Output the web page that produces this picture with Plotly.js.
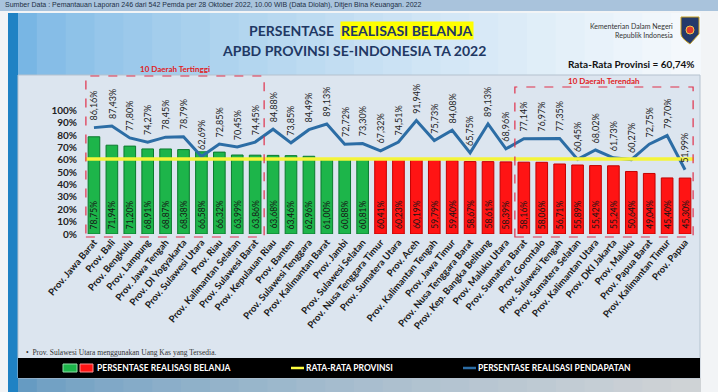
<!DOCTYPE html>
<html>
<head>
<meta charset="utf-8">
<script src="https://cdn.plot.ly/plotly-3.0.1.min.js"></script>
<style>html,body{margin:0;padding:0;background:#ffffff;}#chart{width:718px;height:392px;}</style>
</head>
<body>
<div id="chart"></div>
<script>
const provinces = [
  "Prov. Jawa Barat","Prov. Bali","Prov. Bengkulu","Prov. Lampung","Prov. Jawa Tengah",
  "Prov. DI Yogyakarta","Prov. Sulawesi Utara","Prov. Riau","Prov. Kalimantan Selatan","Prov. Sulawesi Barat",
  "Prov. Kepulauan Riau","Prov. Banten","Prov. Sulawesi Tenggara","Prov. Kalimantan Barat","Prov. Jambi",
  "Prov. Sulawesi Selatan","Prov. Nusa Tenggara Timur","Prov. Sumatera Utara","Prov. Aceh","Prov. Kalimantan Tengah",
  "Prov. Jawa Timur","Prov. Nusa Tenggara Barat","Prov. Kep. Bangka Belitung","Prov. Maluku Utara","Prov. Sumatera Barat",
  "Prov. Gorontalo","Prov. Sulawesi Tengah","Prov. Sumatera Selatan","Prov. Kalimantan Utara","Prov. DKI Jakarta",
  "Prov. Maluku","Prov. Papua Barat","Prov. Kalimantan Timur","Prov. Papua"
];
const belanja = [
  78.75,71.94,71.20,68.91,68.87,68.38,66.58,66.32,63.99,63.86,
  63.68,63.46,62.96,61.00,60.88,60.81,60.41,60.23,60.19,59.79,
  59.40,58.67,58.61,58.39,58.16,58.06,56.71,55.89,55.42,55.24,
  50.64,49.04,45.40,45.30
];
const pendapatan = [
  86.16,87.43,77.80,74.27,78.45,78.79,62.69,72.85,70.45,74.45,
  84.88,73.85,84.49,89.13,72.72,73.30,67.32,74.51,91.94,75.73,
  84.08,65.75,89.13,68.96,77.14,76.97,77.35,60.45,68.02,61.73,
  60.27,72.75,79.70,51.99
];
const rataRata = 60.74;
const yTickVals = [0,10,20,30,40,50,60,70,80,90,100];
const yTickText = ["0%","10%","20%","30%","40%","50%","60%","70%","80%","90%","100%"];

const fmt = v => v.toFixed(2).replace('.', ',') + '%';
const FONT = "Lato, 'Open Sans', sans-serif";
const idx = provinces.map((p,i)=>i);

const barTrace = {
  type: 'bar', x: idx, y: belanja,
  marker: {
    color: belanja.map(v => v >= rataRata ? '#1db54a' : '#ff1414'),
    line: {color: belanja.map(v => v >= rataRata ? '#0b7a2e' : '#c40000'), width: 1}
  },
  hoverinfo: 'skip', showlegend: false
};
const lineTrace = {
  type: 'scatter', mode: 'lines', x: idx, y: pendapatan,
  line: {color: '#2c6da5', width: 3}, hoverinfo: 'skip', showlegend: false
};

const annotations = pendapatan.map((v,i) => ({
  x: i, y: v, xref: 'x', yref: 'y', text: fmt(v), textangle: -90,
  showarrow: false, yanchor: 'bottom', xanchor: 'center', yshift: 5,
  font: {family: FONT, size: 9, color: '#222'}
}));
belanja.forEach((v,i) => annotations.push({
  x: i, y: 0, xref: 'x', yref: 'y', text: fmt(v), textangle: -90,
  showarrow: false, yanchor: 'bottom', xanchor: 'center', yshift: 3,
  font: {family: FONT, size: 8.5, color: '#151515'}
}));

const pa = (x,y,text,opt) => Object.assign({xref:'paper',yref:'paper',x:x,y:y,text:text,showarrow:false}, opt||{});
const L=85, R=24, T=74, B=158, W=718, H=392;
const px = x => (x - L)/(W - L - R);
const py = y => (H - B - y)/(H - T - B);

annotations.push(
  pa(px(3), py(5), "Sumber Data : Pemantauan Laporan 246 dari 542 Pemda per 28 Oktober 2022, 10.00 WIB (Data Diolah), Ditjen Bina Keuangan. 2022",
     {xanchor:'left', yanchor:'middle', font:{family:"'Liberation Sans', Arial", size:7, color:'#1c2f45'}}),
  pa(px(340), py(31), "<b>PERSENTASE </b>", {xanchor:'right', yanchor:'middle', font:{family:FONT, size:14, color:'#1f3864'}}),
  pa(px(340), py(31), "<b>REALISASI BELANJA</b>", {xanchor:'left', yanchor:'middle', bgcolor:'#ffff00', borderpad:0, font:{family:FONT, size:14, color:'#1f3864'}}),
  pa(px(354), py(51), "<b>APBD PROVINSI SE-INDONESIA TA 2022</b>", {xanchor:'center', yanchor:'middle', font:{family:FONT, size:14, color:'#1f3864'}}),
  pa(px(675), py(31), "Kementerian Dalam Negeri<br>Republik Indonesia", {xanchor:'right', yanchor:'middle', align:'right', font:{family:FONT, size:7, color:'#333'}}),
  pa(px(697), py(64), "<b>Rata-Rata Provinsi = 60,74%</b>", {xanchor:'right', yanchor:'middle', font:{family:FONT, size:10, color:'#111'}}),
  pa(px(175), py(69), "<b>10 Daerah Tertinggi</b>", {xanchor:'center', yanchor:'middle', font:{family:FONT, size:8, color:'#e0201c'}}),
  pa(px(604), py(81), "<b>10 Daerah Terendah</b>", {xanchor:'center', yanchor:'middle', font:{family:FONT, size:8, color:'#e0201c'}}),
  pa(px(24), py(352), "•  Prov. Sulawesi Utara menggunakan Uang Kas yang Tersedia.", {xanchor:'left', yanchor:'middle', font:{family:"'Liberation Serif', serif", size:7.5, color:'#333'}}),
  pa(px(95), py(368), "<b>PERSENTASE REALISASI BELANJA</b>", {xanchor:'left', yanchor:'middle', font:{family:FONT, size:8.5, color:'#fff'}}),
  pa(px(304), py(368), "<b>RATA-RATA PROVINSI</b>", {xanchor:'left', yanchor:'middle', font:{family:FONT, size:8.5, color:'#fff'}}),
  pa(px(476), py(368), "<b>PERSENTASE REALISASI PENDAPATAN</b>", {xanchor:'left', yanchor:'middle', font:{family:FONT, size:8.5, color:'#fff'}})
);

const rect = (x0,y0,x1,y1,fill,opt) => Object.assign({type:'rect', xref:'paper', yref:'paper', x0:px(x0), x1:px(x1), y0:py(y0), y1:py(y1), fillcolor:fill, line:{width:0}, layer:'below'}, opt||{});
const shapes = [];
shapes.push(rect(0,0,718,392,'#f2f4f6'));
shapes.push(rect(0,0,718,11,'#a9c3dc'));
const n = 24;
for (let k=0;k<n;k++){
  const t = k/(n-1);
  const c1=[120,182,228], c2=[244,248,252];
  const c = c1.map((a,j)=>Math.round(a+(c2[j]-a)*Math.pow(t,0.7)));
  shapes.push(rect(8+k*(700-8)/n, 13, 8+(k+1)*(700-8)/n+1, 76, 'rgb('+c.join(',')+')'));
  shapes.push(rect(8+k*(700-8)/n, 378, 8+(k+1)*(700-8)/n+1, 392, 'rgb('+c.map((a,j)=>Math.round(a*0.85)).join(',')+')'));
}
shapes.push(rect(8,13,18,392,'#1f82c4'));
shapes.push(rect(18,75,700,378,'#dce5ef',{line:{color:'#b5c2cf',width:1}}));
shapes.push(rect(18,358,700,378,'#000000'));
shapes.push(rect(63,364,77,372,'#1db54a',{layer:'above', line:{color:'#8fe0a8',width:1}}));
shapes.push(rect(80,364,93,372,'#ff1414',{layer:'above', line:{color:'#ff9090',width:1}}));
shapes.push({type:'line', xref:'paper', yref:'paper', x0:px(291), x1:px(304), y0:py(368), y1:py(368), line:{color:'#ffff40', width:2.5}, layer:'above'});
shapes.push({type:'line', xref:'paper', yref:'paper', x0:px(463), x1:px(476), y0:py(368), y1:py(368), line:{color:'#2c6da5', width:2.5}, layer:'above'});
shapes.push({type:'path', xref:'paper', yref:'paper', layer:'above',
  path: 'M '+px(681)+' '+py(17)+' L '+px(699)+' '+py(17)+' L '+px(699)+' '+py(34)+' Q '+px(690)+' '+py(44)+' '+px(690)+' '+py(44)+' Q '+px(681)+' '+py(38)+' '+px(681)+' '+py(34)+' Z',
  fillcolor:'#243a6b', line:{color:'#c9a227', width:1}});
shapes.push({type:'circle', xref:'paper', yref:'paper', layer:'above', x0:px(686), x1:px(694), y0:py(26), y1:py(34), fillcolor:'#e03a2f', line:{color:'#f2c94c', width:1}});
shapes.push({type:'line', xref:'paper', yref:'y', x0:0, x1:1, y0:rataRata, y1:rataRata, line:{color:'#f4f43a', width:3.5}, layer:'above'});
shapes.push({type:'rect', xref:'x', yref:'paper', x0:-0.45, x1:9.5, y0:py(237), y1:py(76), line:{color:'#e0304a', width:1.2, dash:'dash'}, fillcolor:'rgba(0,0,0,0)', layer:'above'});
shapes.push({type:'rect', xref:'x', yref:'paper', x0:23.5, x1:33.45, y0:py(237), y1:py(87), line:{color:'#e0304a', width:1.2, dash:'dash'}, fillcolor:'rgba(0,0,0,0)', layer:'above'});

const layout = {
  width: W, height: H,
  margin: {l:L, r:R, t:T, b:B, pad:0},
  paper_bgcolor: 'rgba(0,0,0,0)', plot_bgcolor: 'rgba(0,0,0,0)',
  bargap: 0.35,
  showlegend: false,
  xaxis: {
    tickmode: 'array', tickvals: idx, ticktext: provinces.map(p => '<b>' + p + '</b>'), tickangle: -50,
    range: [-0.5, 33.5], showgrid: false, zeroline: false, showline: false, ticks: '',
    tickfont: {family: FONT, size: 9.5, color: '#1a1a1a'}
  },
  yaxis: {
    range: [0, 129.6], tickmode: 'array', tickvals: yTickVals, ticktext: yTickText.map(t => '<b>' + t + '</b>'),
    showgrid: false, zeroline: false, showline: false, ticks: '', ticklabelstandoff: 7,
    tickfont: {family: FONT, size: 10, color: '#222'}
  },
  annotations: annotations,
  shapes: shapes
};

Plotly.newPlot('chart', [barTrace, lineTrace], layout, {displayModeBar: false, staticPlot: true});
</script>
</body>
</html>
